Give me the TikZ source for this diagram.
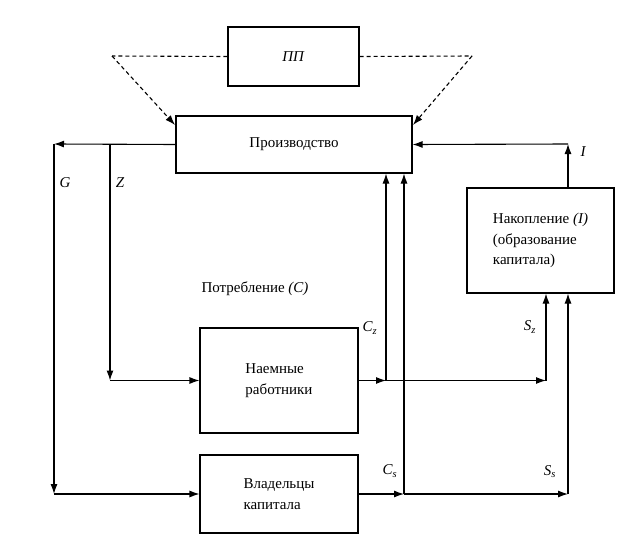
\documentclass[tikz,border=0pt]{standalone}
\usepackage{fontspec}
\setmainfont{Liberation Serif}
\usetikzlibrary{arrows.meta}

\begin{document}
\begin{tikzpicture}[x=1pt,y=-1pt,line width=1.1pt,
		>={Latex[length=10pt,width=7pt]},
		font=\fontsize{15}{20.5}\selectfont,
		block/.style={draw, inner sep=0pt, align=left},
		flowlabel/.style={font=\fontsize{15}{16}\selectfont\itshape, inner sep=0pt}]
		\useasboundingbox (0,0) rectangle (642,559);

		\draw (293.5,56.5) node [block, minimum width=131pt, minimum height=59pt] (pp) {\textit{ПП}};
		\draw (294,144.5) node [block, minimum width=236pt, minimum height=57pt] (prod) {Производство};
		\draw (540.5,240.5) node [block, minimum width=147pt, minimum height=105pt] (nak) {Накопление \textit{(I)}\\(образование\\капитала)};
		\draw (279,380.5) node [block, minimum width=158pt, minimum height=105pt] (naem) {Наемные\\работники};
		\draw (279,494) node [block, minimum width=158pt, minimum height=78pt] (vlad) {Владельцы\\капитала};

		\coordinate (ppl) at (112,56);
		\coordinate (ppr) at (472,56);
		\coordinate (gtop) at (54,144);
		\coordinate (gbot) at (54,494);
		\coordinate (ztop) at (110,144);
		\coordinate (zbot) at (110,380.5);
		\coordinate (cz) at (386,380.5);
		\coordinate (sz) at (546,380.5);
		\coordinate (cs) at (404,494);
		\coordinate (ss) at (568,494);
		\coordinate (itop) at (568,144);

		\draw [dashed, dash pattern=on 4pt off 3pt] (pp.west) -- (ppl);
		\draw [dashed, dash pattern=on 4pt off 3pt, ->] (ppl) -- (175,125);
		\draw [dashed, dash pattern=on 4pt off 3pt] (pp.east) -- (ppr);
		\draw [dashed, dash pattern=on 4pt off 3pt, ->] (ppr) -- (413,125);

		\draw [->] (prod.west) -- (gtop);
		\draw [->] (gtop) -- (gbot);
		\draw [->] (gbot) -- (vlad.west);
		\draw [->] (ztop) -- (zbot);
		\draw [->] (zbot) -- (naem.west);

		\draw [->] (naem.east) -- (cz);
		\draw [->] (cz) -- (cz |- prod.south);
		\draw [->] (cz) -- (sz);
		\draw [->] (sz) -- (sz |- nak.south);

		\draw [->] (vlad.east) -- (cs);
		\draw [->] (cs) -- (cs |- prod.south);
		\draw [->] (cs) -- (ss);
		\draw [->] (ss) -- (ss |- nak.south);

		\draw [->] (itop |- nak.north) -- (itop);
		\draw [->] (itop) -- (prod.east);

		\draw (65,183) node [flowlabel] (g) {G};
		\draw (120,183) node [flowlabel] (z) {Z};
		\draw (583,152) node [flowlabel] (i) {I};
		\draw (370,328) node [flowlabel] (czl) {C\textsubscript{z}};
		\draw (530,327) node [flowlabel] (szl) {S\textsubscript{z}};
		\draw (390,471) node [flowlabel] (csl) {C\textsubscript{s}};
		\draw (550,472) node [flowlabel] (ssl) {S\textsubscript{s}};
		\draw (201,289) node [anchor=west, inner sep=0pt] (potr) {Потребление \textit{(C)}};
	\end{tikzpicture}
\end{document}
